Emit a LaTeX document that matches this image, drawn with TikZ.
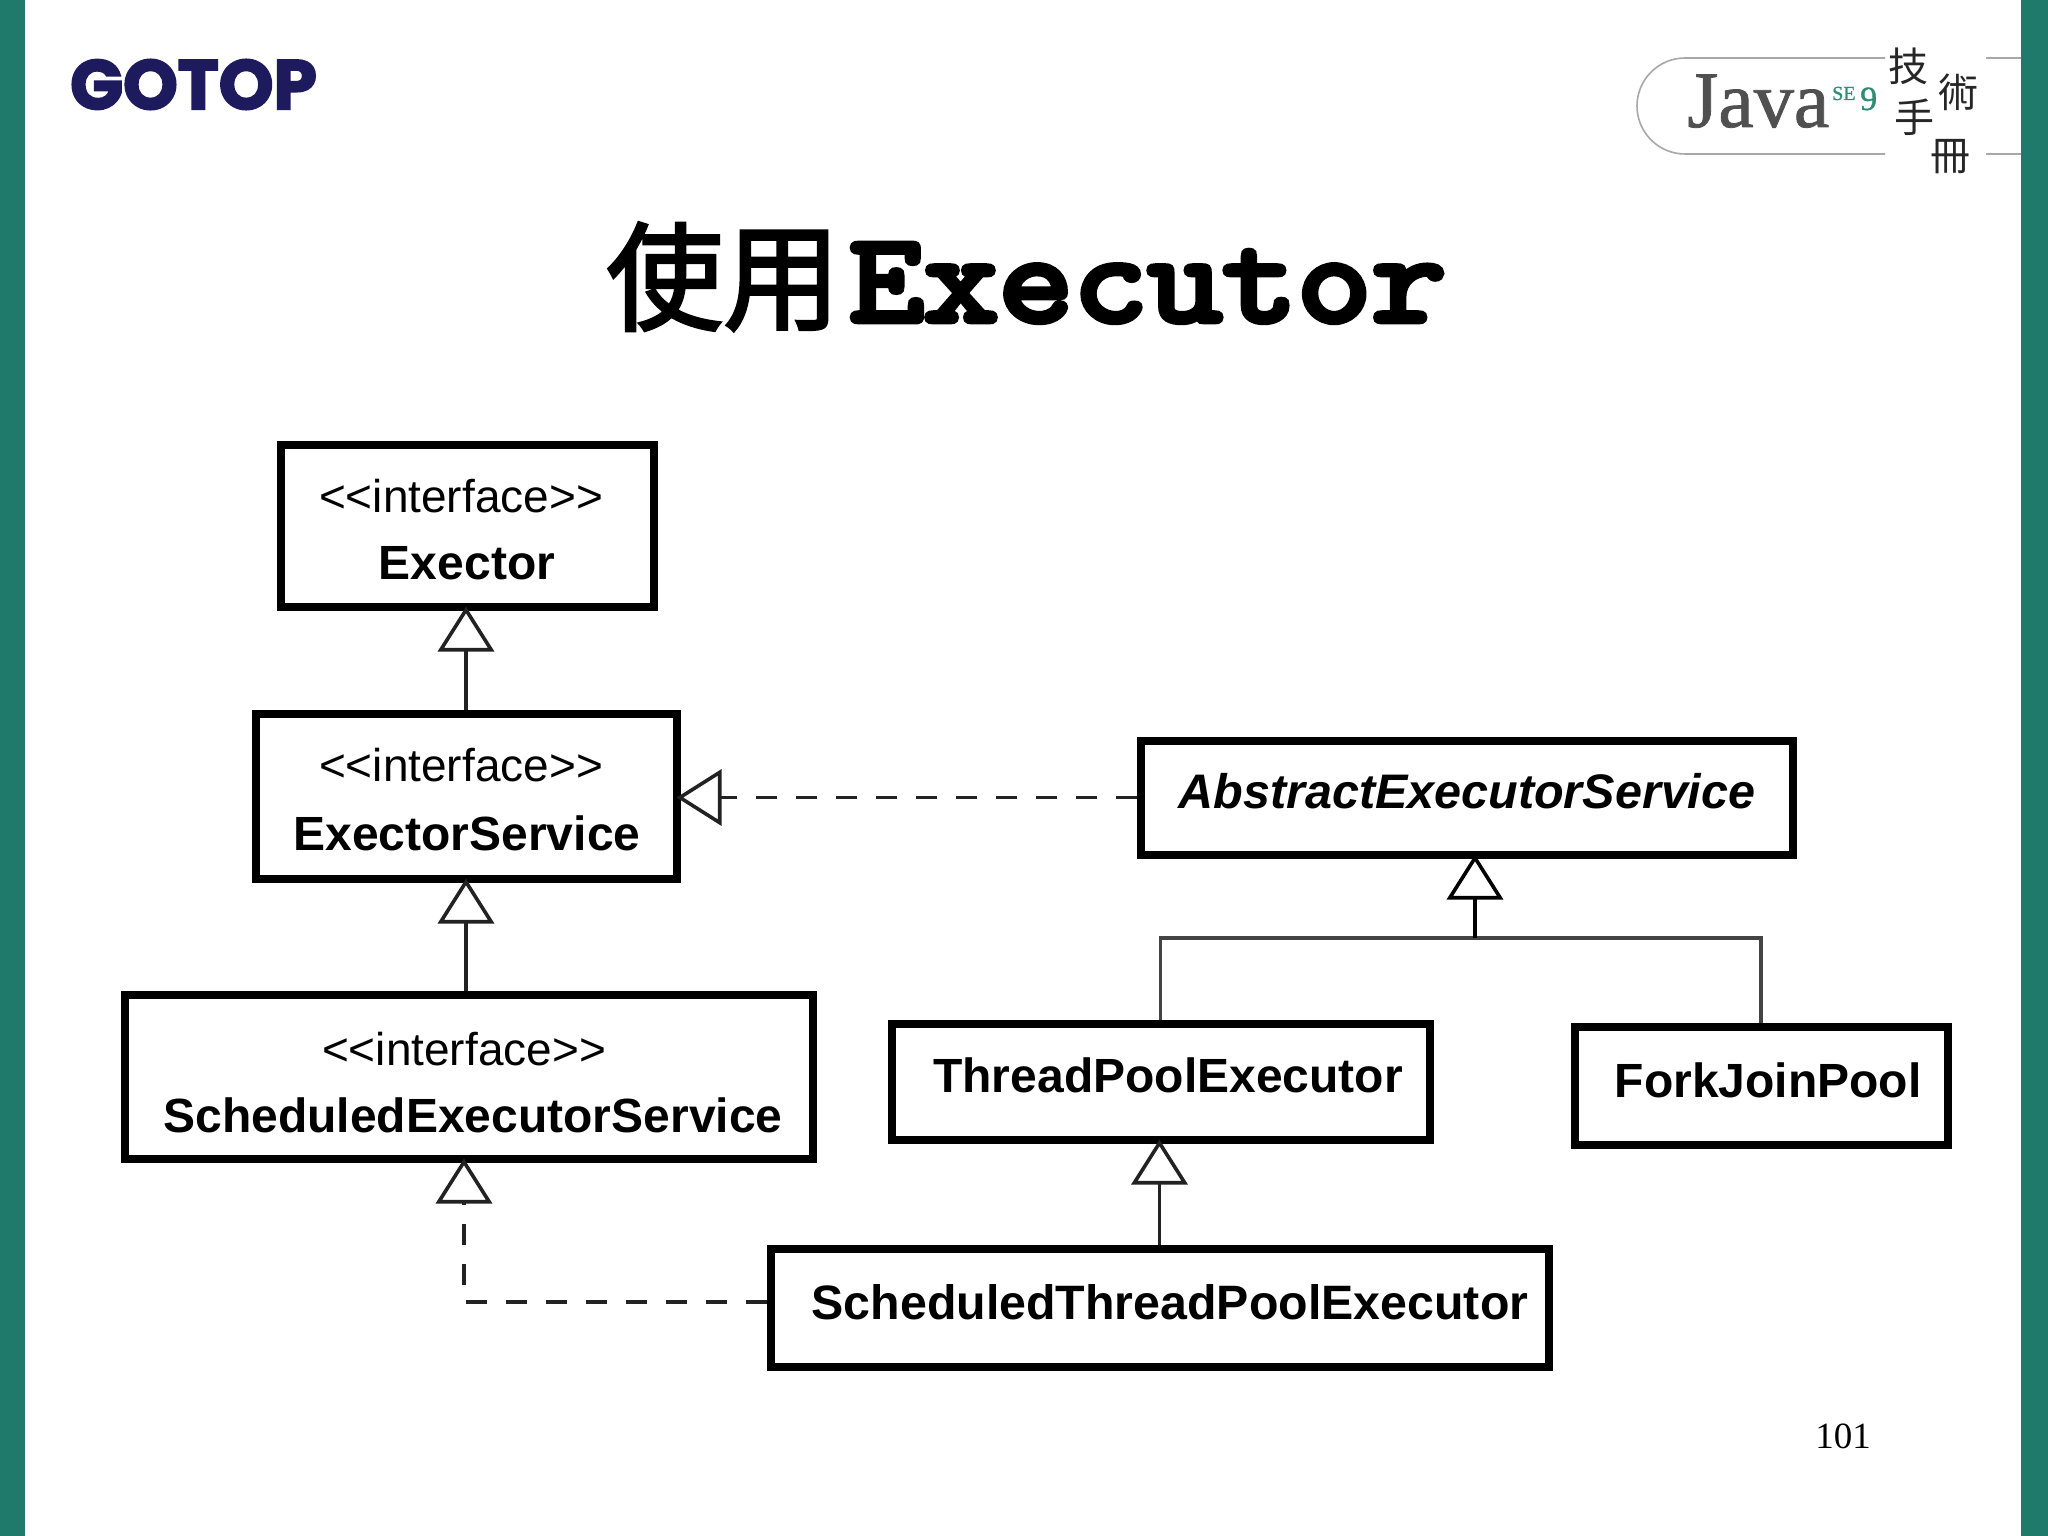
\documentclass[tikz,border=0pt]{standalone}
\usepackage{fontspec}
\usetikzlibrary{arrows.meta}
\setmainfont{Liberation Sans}
\newfontfamily\titlemono[FakeBold=5.5,FakeStretch=1.15]{Latin Modern Mono}
\newfontfamily\cjkfont{Noto Sans CJK TC}
\newfontfamily\cjktitle[FakeBold=2.5]{Noto Sans CJK TC}
\newfontfamily\seriffont{Liberation Serif}
\newfontfamily\javafont[FakeBold=1]{Liberation Serif}
\newfontfamily\logofont[BoldFeatures={FakeBold=3}]{Poppins}
\definecolor{barcol}{HTML}{1F7A6C}
\definecolor{logocol}{HTML}{1E1A5E}
\definecolor{javagrey}{HTML}{505050}
\definecolor{javagreen}{HTML}{2E8B74}
\definecolor{rulegrey}{HTML}{A8A8A8}
\definecolor{linecol}{HTML}{222222}
\definecolor{treecol}{HTML}{444444}
\tikzset{
  umlbox/.style={draw=black,line width=8pt,fill=white,inner sep=0pt},
  stereo/.style={anchor=base,inner sep=0pt,font=\fontsize{46}{50}\selectfont},
  cname/.style={anchor=base,inner sep=0pt,font=\fontsize{48}{52}\selectfont\bfseries},
  inherit/.style={draw=linecol,line width=3.6pt,shorten >=-4pt,-{Triangle[open,fill=white,length=45pt,width=56pt,line width=3.6pt]}},
  realize/.style={inherit,dash pattern=on 21pt off 19pt},
  plainline/.style={draw=treecol,line width=3.4pt},
  hand/.style={inner sep=0pt,font=\fontsize{40}{44}\cjkfont,text=black!85},
}
\begin{document}
\begin{tikzpicture}[x=1pt,y=-1pt]
\useasboundingbox (0,0) rectangle (2048,1536);
\fill[white] (0,0) rectangle (2048,1536);
\fill[barcol] (0,0) rectangle (25,1536);
\fill[barcol] (2021,0) rectangle (2048,1536);
% logos
\node[inner sep=0pt,anchor=base west,text=logocol,font=\fontsize{69.5}{72}\logofont\bfseries] (gotop) at (70,109) {GOTOP};
\draw[rulegrey,line width=1.6pt] (1885,58) -- (1685,58) arc[start angle=270,end angle=90,radius=48] -- (1885,154);
\draw[rulegrey,line width=1.6pt] (1986,58) -- (2021,58) (1986,154) -- (2021,154);
\node[inner sep=0pt,anchor=base west,text=javagrey,font=\fontsize{80}{84}\javafont] (java) at (1687,127) {Java};
\node[inner sep=0pt,anchor=base west,text=javagreen,font=\fontsize{20}{22}\javafont] (se) at (1832,100) {SE};
\node[inner sep=0pt,anchor=base west,text=javagreen,font=\fontsize{34}{36}\javafont] (nine) at (1860,110) {9};
\node[hand] (h1) at (1908,66) {技};
\node[hand] (h2) at (1958,92) {術};
\node[hand] (h3) at (1914,117) {手};
\node[hand] (h4) at (1950,157) {冊};
% title
\node[inner sep=0pt,anchor=base west,font=\fontsize{117}{120}\cjktitle] (t1) at (606,321) {使用};
\node[inner sep=0pt,anchor=base west,font=\fontsize{126}{130}\titlemono] (t2) at (849,321) {Executor};
% boxes
\node[umlbox,minimum width=373pt,minimum height=162pt] (ex) at (467,525.5) {};
\node[umlbox,minimum width=421pt,minimum height=165pt] (es) at (466,796) {};
\node[umlbox,minimum width=688pt,minimum height=164pt] (sch) at (468.5,1076.5) {};
\node[umlbox,minimum width=652pt,minimum height=114pt] (abs) at (1466.5,797.5) {};
\node[umlbox,minimum width=538pt,minimum height=116pt] (tp) at (1160.5,1081.5) {};
\node[umlbox,minimum width=373pt,minimum height=118pt] (fj) at (1761,1085.5) {};
\node[umlbox,minimum width=778pt,minimum height=118pt] (stp) at (1159.5,1307.5) {};
% labels
\node[stereo] (l1) at (461,512) {<{}<interface>{}>};
\node[cname]  (n1) at (467,579) {Exector};
\node[stereo] (l2) at (461,781) {<{}<interface>{}>};
\node[cname]  (n2) at (467,850) {ExectorService};
\node[stereo] (l3) at (464,1065) {<{}<interface>{}>};
\node[cname]  (n3) at (473,1132) {ScheduledExecutorService};
\node[cname,font=\fontsize{48.5}{52}\selectfont\bfseries\itshape] (n4) at (1467,808) {AbstractExecutorService};
\node[cname]  (n5) at (1168,1092) {ThreadPoolExecutor};
\node[cname]  (n6) at (1768,1097) {ForkJoinPool};
\node[cname,font=\fontsize{48.3}{52}\selectfont\bfseries]  (n7) at (1170,1319) {ScheduledThreadPoolExecutor};
\node[inner sep=0pt,anchor=base,font=\fontsize{37}{40}\seriffont] (pg) at (1843,1448) {101};
% connectors
\coordinate (j) at (1475,938);
\coordinate (k) at (464,1302);
\draw[inherit] (es.north) -- (es.north |- ex.south);
\draw[inherit] (es.south |- sch.north) -- (es.south);
\draw[realize] (abs.west) -- (abs.west -| es.east);
\draw[plainline] (tp.north) |- (j);
\draw[plainline] (fj.north) |- (j);
\draw[inherit,draw=black] (j) -- (j |- abs.south);
\draw[inherit] (stp.north) -- (stp.north |- tp.south);
\draw[realize] (k -| stp.west) -- (k) -- (k |- sch.south);
\end{tikzpicture}
\end{document}
